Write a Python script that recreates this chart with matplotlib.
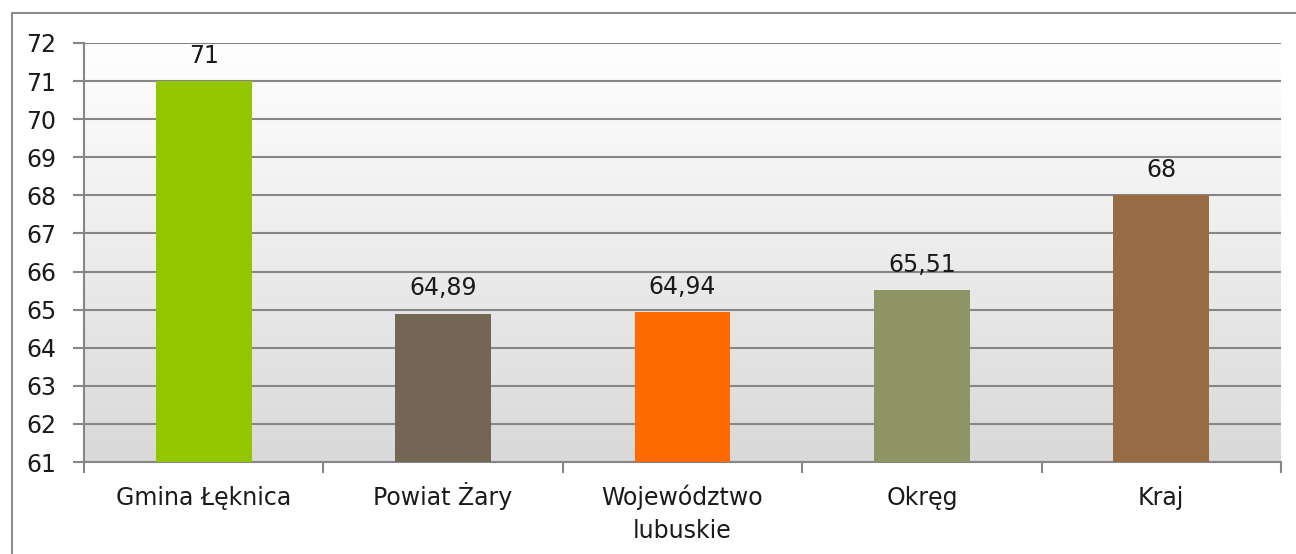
import numpy as np
import matplotlib.pyplot as plt
from matplotlib.patches import Rectangle
from matplotlib.transforms import blended_transform_factory, offset_copy

categories = ["Gmina Łęknica", "Powiat Żary", "Województwo\nlubuskie", "Okręg", "Kraj"]
values = [71, 64.89, 64.94, 65.51, 68]
labels = ["71", "64,89", "64,94", "65,51", "68"]
colors = ["#93C500", "#736655", "#FF6A00", "#8F9464", "#976B43"]

plt.rcParams['font.family'] = ['DejaVu Sans']

fig = plt.figure(figsize=(12.96, 5.54), dpi=100)
ax = fig.add_axes([84 / 1296, 1 - 462 / 554, (1281 - 84) / 1296, (462 - 43) / 554])

# outer chart border
fig.patches.append(Rectangle((12 / 1296, -0.05), 1.1, 1 - 13 / 554 + 0.05,
                             transform=fig.transFigure, fill=False,
                             edgecolor="#8c8c8c", linewidth=1.5))

# gradient plot background
grad = np.linspace(1, 0, 256).reshape(-1, 1)
ax.imshow(grad, cmap=plt.matplotlib.colors.LinearSegmentedColormap.from_list(
    "bg", ["#d9d9d9", "#ffffff"]), aspect="auto",
    extent=(-0.5, len(values) - 0.5, 61, 72), zorder=0, origin="upper")

x = np.arange(len(values))
ax.bar(x, [v - 61 for v in values], bottom=61, width=0.4, color=colors, zorder=3)
for xi, v, lab in zip(x, values, labels):
    ax.text(xi, v + 0.35, lab, ha="center", va="bottom", fontsize=17, color="#1a1a1a", zorder=4)

ax.set_xlim(-0.5, len(values) - 0.5)
ax.set_ylim(61, 72)
ax.set_yticks(range(61, 73))
ax.yaxis.grid(True, color="#868686", linewidth=1.5, zorder=1)
ax.set_axisbelow(True)

ax.set_xticks(np.arange(-0.5, len(values), 1.0))
ax.set_xticklabels([])
ax.tick_params(axis="x", which="major", length=8, width=1.5, color="#868686")
ax.tick_params(axis="y", length=8, width=1.5, color="#868686", labelsize=17,
               labelcolor="#1a1a1a", pad=12)

# category labels, each line placed on its own baseline
trans = blended_transform_factory(ax.transData, ax.transAxes)
for xi, cat in zip(x, categories):
    for i, line in enumerate(cat.split("\n")):
        t = offset_copy(trans, fig=fig, x=0, y=-(31 + 24 * i), units="points")
        ax.text(xi, 0, line, transform=t, ha="center", va="baseline",
                fontsize=17, color="#1a1a1a", clip_on=False)

for side in ["top", "right"]:
    ax.spines[side].set_visible(False)
for side in ["left", "bottom"]:
    ax.spines[side].set_color("#868686")
    ax.spines[side].set_linewidth(1.5)

fig.savefig("out.png", dpi=100)
